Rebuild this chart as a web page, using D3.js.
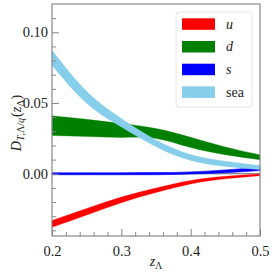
<!DOCTYPE html>
<html>
<head>
<meta charset="utf-8">
<script src="https://cdn.jsdelivr.net/npm/d3@7"></script>
<style>
  body { margin: 0; background: #fff; }
  svg { display: block; }
</style>
</head>
<body>
<div id="chart"></div>
<script>
const zValues = [0.2, 0.25, 0.3, 0.35, 0.4, 0.45, 0.5];

// lower / upper edge of each band
const uLow = [-0.0378, -0.0292, -0.0205, -0.0133, -0.0072, -0.0036, -0.0014];
const uHigh = [-0.0330, -0.0245, -0.0165, -0.0101, -0.0048, -0.0018, -0.0002];
const dLow = [0.0270, 0.0263, 0.0257, 0.0250, 0.0185, 0.0135, 0.0099];
const dHigh = [0.0410, 0.0385, 0.0355, 0.0320, 0.0258, 0.0190, 0.0134];
const sLow = [-0.0007, -0.0007, -0.0007, -0.0007, -0.0002, 0.0007, 0.0023];
const sHigh = [0.0007, 0.0007, 0.0007, 0.0008, 0.0013, 0.0027, 0.0046];
const seaLow = [0.0767, 0.0498, 0.0330, 0.0191, 0.0094, 0.0052, 0.0029];
const seaHigh = [0.0873, 0.0583, 0.0390, 0.0239, 0.0136, 0.0089, 0.0058];

const seriesNames = ['u', 'd', 's', 'sea'];
const seriesColors = ['#ff0000', '#008000', '#0000ff', '#87ceeb'];

const xMajor = [0.2, 0.3, 0.4, 0.5];
const yMajor = [0.0, 0.05, 0.10];

const FONT = "'Liberation Serif', 'Times New Roman', 'DejaVu Serif', serif";

const W = 274, H = 274;
const margin = { top: 4, right: 14, bottom: 38, left: 52 };
const width = W - margin.left - margin.right;
const height = H - margin.top - margin.bottom;

const svg = d3.select('#chart')
  .append('svg')
  .attr('width', W)
  .attr('height', H);

const g = svg.append('g')
  .attr('transform', `translate(${margin.left},${margin.top})`);

const x = d3.scaleLinear().domain([0.2, 0.5]).range([0, width]);
const y = d3.scaleLinear().domain([-0.044, 0.12]).range([height, 0]);

// bands
const bands = [
  [uLow, uHigh],
  [dLow, dHigh],
  [sLow, sHigh],
  [seaLow, seaHigh]
];

const area = d3.area()
  .x(d => x(d.z))
  .y0(d => y(d.lo))
  .y1(d => y(d.hi))
  .curve(d3.curveNatural);

// zero line
g.append('line')
  .attr('x1', 0).attr('x2', width)
  .attr('y1', y(0)).attr('y2', y(0))
  .attr('stroke', '#000')
  .attr('stroke-width', 0.6);

bands.forEach((b, i) => {
  const pts = zValues.map((z, j) => ({ z: z, lo: b[0][j], hi: b[1][j] }));
  g.append('path')
    .datum(pts)
    .attr('d', area)
    .attr('fill', seriesColors[i])
    .attr('stroke', seriesColors[i])
    .attr('stroke-width', i === 2 ? 0.6 : 0.3);
});

// axes (ticks inward)
const xAxis = g.append('g')
  .attr('transform', `translate(0,${height})`)
  .call(d3.axisBottom(x).tickValues(xMajor).tickSize(-7).tickPadding(10).tickFormat(d3.format('.1f')));
const xMinor = g.append('g')
  .attr('transform', `translate(0,${height})`)
  .call(d3.axisBottom(x).tickValues(d3.range(0.22, 0.5, 0.02).filter(v => Math.abs(v * 10 - Math.round(v * 10)) > 0.01)).tickSize(-4).tickFormat(''));

const yAxis = g.append('g')
  .call(d3.axisLeft(y).tickValues(yMajor).tickSize(-7).tickPadding(4).tickFormat(d3.format('.2f')));
const yMinor = g.append('g')
  .call(d3.axisLeft(y).tickValues(d3.range(-0.04, 0.115, 0.01).filter(v => Math.abs(v * 20 - Math.round(v * 20)) > 0.01)).tickSize(-4).tickFormat(''));

[xAxis, xMinor, yAxis, yMinor].forEach(a => {
  a.attr('font-family', null);
  a.select('.domain').remove();
  a.selectAll('line').attr('stroke', '#888').attr('stroke-width', 1);
  a.selectAll('text')
    .style('font-family', FONT)
    .style('font-size', '14.5px')
    .attr('fill', '#222');
});

// frame
g.append('rect')
  .attr('width', width)
  .attr('height', height)
  .attr('fill', 'none')
  .attr('stroke', '#888')
  .attr('stroke-width', 1.2);

// legend
const leg = g.append('g').attr('transform', `translate(${176 - margin.left},${12 - margin.top})`);
leg.append('rect')
  .attr('width', 76).attr('height', 95)
  .attr('rx', 3)
  .attr('fill', '#fff')
  .attr('fill-opacity', 0.8)
  .attr('stroke', '#ddd')
  .attr('stroke-width', 0.8);
seriesNames.forEach((name, i) => {
  const row = leg.append('g').attr('transform', `translate(6,${12 + i * 22.7})`);
  row.append('rect')
    .attr('y', -5.7).attr('width', 33).attr('height', 11.5)
    .attr('fill', seriesColors[i]);
  row.append('text')
    .attr('x', 44).attr('y', 4.5)
    .style('font-family', FONT)
    .style('font-size', '14px')
    .style('font-style', name === 'sea' ? 'normal' : 'italic')
    .attr('fill', '#222')
    .text(name);
});

// axis labels
svg.append('text')
  .attr('x', margin.left + width / 2)
  .attr('y', 266)
  .attr('text-anchor', 'middle')
  .style('font-family', FONT)
  .style('font-size', '14px')
  .attr('fill', '#222')
  .call(t => {
    t.append('tspan').style('font-style', 'italic').text('z');
    t.append('tspan').attr('baseline-shift', '-30%').style('font-size', '10px').text('Λ');
  });

svg.append('text')
  .attr('transform', `translate(21,123) rotate(-90)`)
  .attr('text-anchor', 'middle')
  .style('font-family', FONT)
  .style('font-size', '14px')
  .attr('fill', '#222')
  .call(t => {
    t.append('tspan').style('font-style', 'italic').text('D');
    t.append('tspan').attr('baseline-shift', '-30%').style('font-size', '10px').style('font-style', 'italic').text('T');
    t.append('tspan').attr('baseline-shift', '-30%').style('font-size', '10px').text(',Λ/');
    t.append('tspan').attr('baseline-shift', '-30%').style('font-size', '10px').style('font-style', 'italic').text('q');
    t.append('tspan').attr('dx', 1).text('(');
    t.append('tspan').style('font-style', 'italic').text('z');
    t.append('tspan').attr('baseline-shift', '-30%').style('font-size', '10px').text('Λ');
    t.append('tspan').text(')');
  });
</script>
</body>
</html>
